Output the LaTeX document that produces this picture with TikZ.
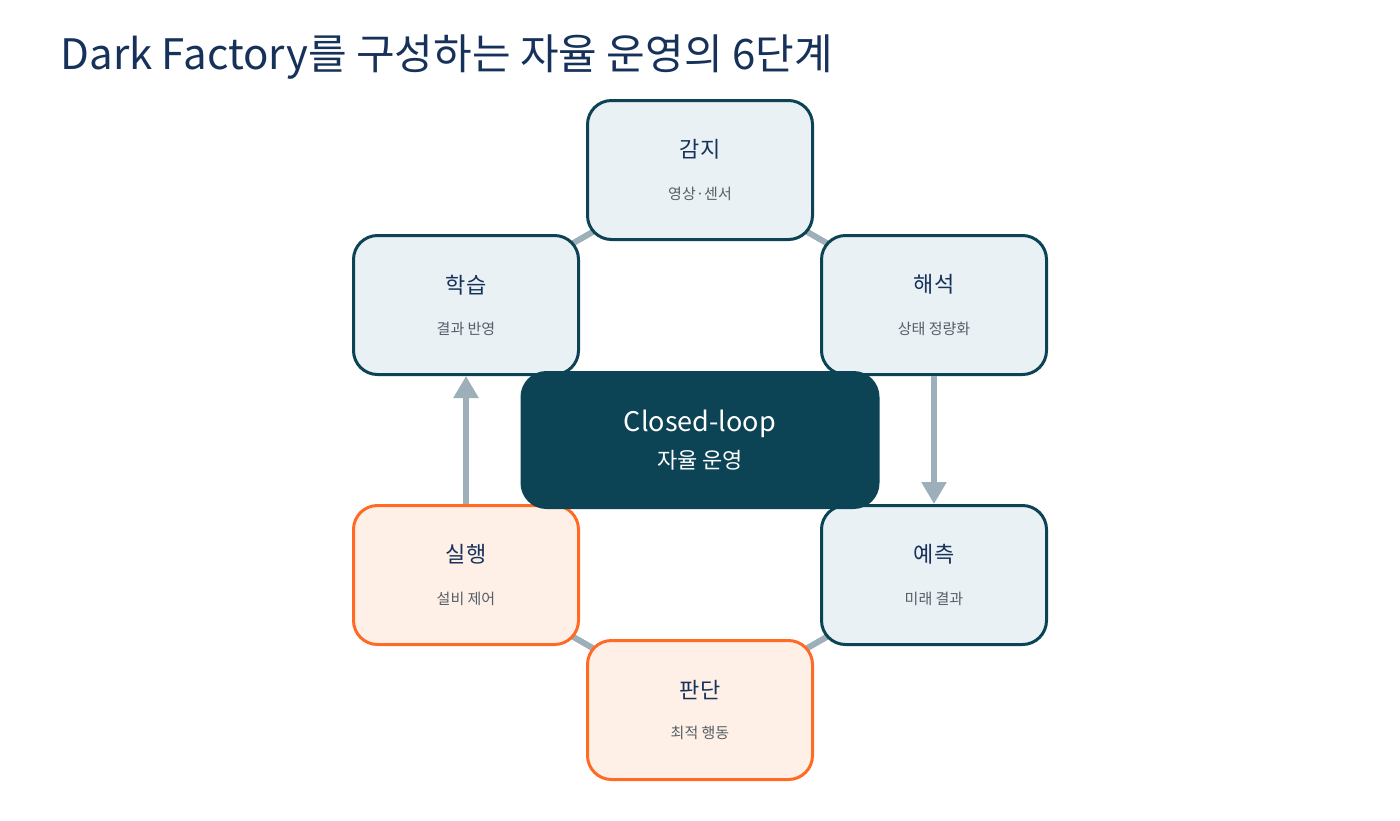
\documentclass[tikz,border=0pt]{standalone}
\usepackage{fontspec}
\setmainfont{Noto Sans CJK KR}
\usetikzlibrary{arrows.meta}
\definecolor{navy}{HTML}{17325A}
\definecolor{teal}{HTML}{0D4455}
\definecolor{bluefill}{HTML}{E9F1F5}
\definecolor{orng}{HTML}{FF6B24}
\definecolor{orfill}{HTML}{FFF0E7}
\definecolor{conn}{HTML}{9DAFB9}
\definecolor{subg}{HTML}{555E66}
\begin{document}
\begin{tikzpicture}[x=1pt,y=-1pt,
  stage/.style={draw=teal,line width=3pt,fill=bluefill,rounded corners=24pt,minimum width=225pt,minimum height=139pt,align=center,inner sep=0pt},
  act/.style={stage,draw=orng,fill=orfill},
  conn/.style={draw=conn,line width=6pt},
  arr/.style={conn,-{Triangle[length=22pt,width=24pt]},shorten >=0pt}]
\useasboundingbox (0,0) rectangle (1400,820);
\fill[white] (0,0) rectangle (1400,820);
\node[anchor=west,text=navy,font=\fontsize{42}{48}\selectfont] (title) at (57,57) {Dark Factory를 구성하는 자율 운영의 6단계};
\newcommand{\lbl}[2]{{\color{navy}\fontsize{22}{26}\selectfont #1}\\[26pt]{\color{subg}\fontsize{15}{18}\selectfont #2}}
\coordinate (c1) at (700,170);
\coordinate (c2) at (934,305);
\coordinate (c3) at (934,575);
\coordinate (c4) at (700,710);
\coordinate (c5) at (466,575);
\coordinate (c6) at (466,305);
\draw[conn] (c1)--(c2) (c3)--(c4)--(c5) (c6)--(c1);
\node[stage] (gamji) at (c1) {\lbl{감지}{영상·센서}};
\node[stage] (haeseok) at (c2) {\lbl{해석}{상태 정량화}};
\node[stage] (yecheuk) at (c3) {\lbl{예측}{미래 결과}};
\node[act] (pandan) at (c4) {\lbl{판단}{최적 행동}};
\node[act] (silhaeng) at (c5) {\lbl{실행}{설비 제어}};
\node[stage] (hakseup) at (c6) {\lbl{학습}{결과 반영}};
\draw[arr] (haeseok.south) -- (yecheuk.north);
\draw[arr] (silhaeng.north) -- (hakseup.south);
\node[fill=teal,rounded corners=26pt,minimum width=359pt,minimum height=138pt,align=center,text=white,inner sep=0pt] (center) at (700,440)
  {{\fontsize{27}{32}\selectfont Closed-loop}\\[12pt]{\fontsize{22}{28}\selectfont 자율 운영}};
\end{tikzpicture}
\end{document}
